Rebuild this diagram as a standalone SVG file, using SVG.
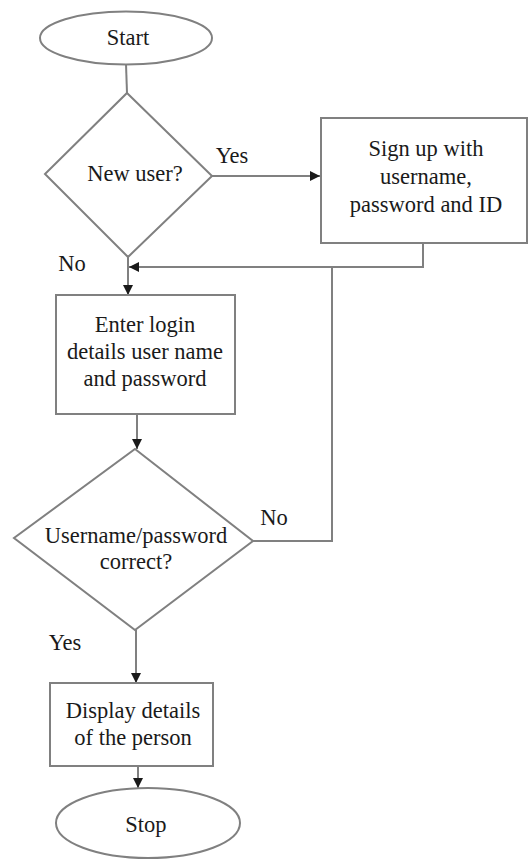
<svg xmlns="http://www.w3.org/2000/svg" width="528" height="859" viewBox="0 0 528 859">
<style>
.s{fill:#fff;stroke:#808080;stroke-width:2}
.c{fill:none;stroke:#808080;stroke-width:2}
text{font-size:22.5px;fill:#1a1a1a;text-anchor:middle}
</style>
<defs>
<marker id="a" viewBox="0 0 10 10" refX="10" refY="5" markerWidth="10" markerHeight="10" markerUnits="userSpaceOnUse" orient="auto">
<path d="M0,0 L10,5 L0,10 z" fill="#1a1a1a"/>
</marker>
</defs>
<rect width="528" height="859" fill="#fff"/>
<g font-family="Liberation Serif, Times New Roman, serif">
<g id="connectors">
<line class="c" x1="126" y1="64" x2="127" y2="93"/>
<line class="c" x1="212" y1="176" x2="320" y2="176" marker-end="url(#a)"/>
<polyline class="c" points="423,243 423,267 129,267" marker-end="url(#a)"/>
<line class="c" x1="128" y1="257" x2="128" y2="295" marker-end="url(#a)"/>
<line class="c" x1="137" y1="414" x2="137" y2="449" marker-end="url(#a)"/>
<polyline class="c" points="253,541 332,541 332,267"/>
<line class="c" x1="136" y1="630" x2="136" y2="683" marker-end="url(#a)"/>
<line class="c" x1="138" y1="766" x2="138" y2="788" marker-end="url(#a)"/>
<text x="232" y="163">Yes</text>
<text x="72" y="271">No</text>
<text x="274" y="525">No</text>
<text x="65" y="650">Yes</text>
</g>
<g id="start">
<ellipse class="s" cx="126" cy="38" rx="86" ry="26.5"/>
<text x="128" y="45">Start</text>
</g>
<g id="newuser">
<polygon class="s" points="127,93 212,176 128,257 45,174"/>
<text x="135" y="181">New user?</text>
</g>
<g id="signup">
<rect class="s" x="321" y="118" width="206" height="125"/>
<text x="426" y="156">Sign up with</text>
<text x="426" y="184">username,</text>
<text x="426" y="212">password and ID</text>
</g>
<g id="login">
<rect class="s" x="56" y="295" width="179" height="119"/>
<text x="145" y="332">Enter login</text>
<text x="145" y="359">details user name</text>
<text x="145" y="386">and password</text>
</g>
<g id="check">
<polygon class="s" points="135,449 253,541 135,630 14,538"/>
<text x="136" y="543">Username/password</text>
<text x="136" y="569">correct?</text>
</g>
<g id="display">
<rect class="s" x="50" y="683" width="163" height="83"/>
<text x="133" y="718">Display details</text>
<text x="133" y="745">of the person</text>
</g>
<g id="stop">
<ellipse class="s" cx="148" cy="823" rx="92" ry="35"/>
<text x="146" y="832">Stop</text>
</g>
</g>
</svg>
